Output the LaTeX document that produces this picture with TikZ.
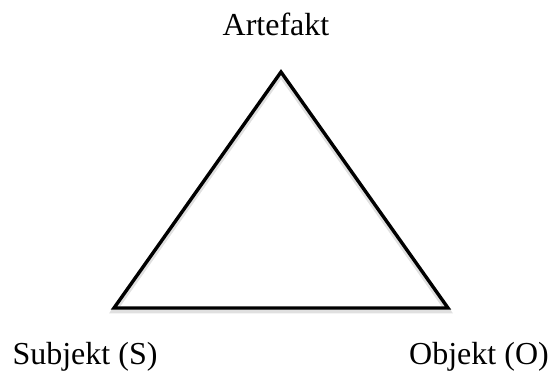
\documentclass[tikz,border=0pt]{standalone}
\usepackage{fontspec}
\setmainfont{Liberation Serif}
\usepackage{tikz}
\usetikzlibrary{positioning}
\tikzset{
  tri diagram/.style={x=0.5pt, y=0.5pt, line cap=round, line join=miter},
  tri edge/.style={draw=black, line width=1.7pt,
    preaction={draw=black!12, line width=2.6pt, transform canvas={yshift=-1.4pt}}},
  tri label/.style={font=\fontsize{16}{19}\selectfont, inner sep=0pt, anchor=base}
}
\begin{document}
\begin{tikzpicture}[tri diagram]
\useasboundingbox (0,0) rectangle (552,374);
% corners of the triangle
\coordinate (apex) at (281,302);
\coordinate (subj) at (114,66);
\coordinate (obj) at (448,66);
\draw[tri edge] (apex) -- (obj) -- (subj) -- cycle;
% labels
\node[tri label] (artefakt) at (276,338) {Artefakt};
\node[tri label] (subjekt) at (85,9) {Subjekt (S)};
\node[tri label] (objekt) at (479,9) {Objekt (O)};
\end{tikzpicture}
\end{document}
